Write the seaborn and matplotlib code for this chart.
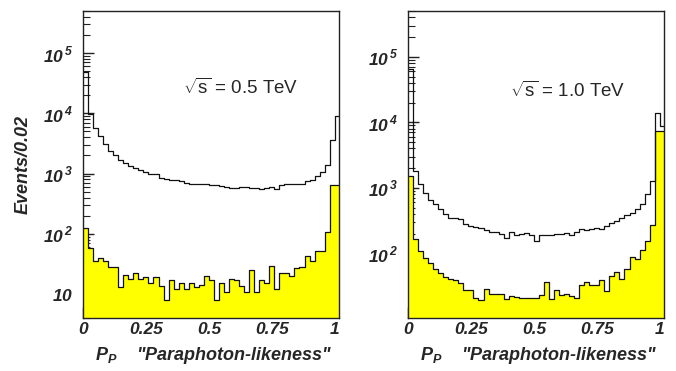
import numpy as np
import matplotlib
matplotlib.use("Agg")
import matplotlib.pyplot as plt
from matplotlib.ticker import FixedLocator, FuncFormatter, LogLocator, NullFormatter, MultipleLocator
import seaborn as sns

# bin edges: 51 bins of width 0.02 (Events/0.02)
bin_edges = [round(0.02 * i, 2) for i in range(52)]

# sqrt(s) = 0.5 TeV : all events (white) and selected (yellow)
left_all = [48000, 9900, 5800, 4250, 3100, 2350, 2000, 1700, 1500, 1320,
            1220, 1150, 1050, 990, 990, 850, 810, 790, 770, 750,
            700, 680, 670, 665, 665, 650, 650, 620, 590, 585,
            585, 590, 590, 575, 585, 560, 575, 590, 560, 640,
            665, 665, 680, 665, 740, 790, 900, 1050, 1400, 3600, 8900]
left_sel = [125, 58, 36, 40, 35, 28, 28, 13, 21, 18,
            22, 18, 19, 15, 19, 13.5, 8, 17, 12, 15,
            12, 15.5, 13, 14, 20, 17, 8, 15, 11, 18,
            17, 13.5, 11, 25, 11, 17, 15, 29, 12, 22,
            22, 20, 27, 28, 43, 36, 51, 51, 107, 650, 650]

# sqrt(s) = 1.0 TeV
right_all = [65000, 1800, 1150, 820, 660, 560, 470, 400, 350, 350,
             330, 280, 265, 250, 243, 225, 215, 210, 195, 172,
             210, 192, 200, 205, 192, 155, 192, 192, 192, 196,
             196, 203, 192, 215, 237, 229, 237, 243, 237, 257,
             290, 314, 345, 389, 412, 475, 574, 800, 1267, 13700, 8900]
right_sel = [1510, 165, 110, 85, 70, 58, 50, 44, 41, 39,
             35, 28, 28, 20.5, 19.4, 29, 24.3, 24.3, 24.3, 20.3,
             22.3, 21.5, 20.8, 20.8, 20.8, 20.8, 22.8, 36, 20.3, 28,
             22.8, 24.3, 22.3, 21, 33, 36, 33, 33, 39, 27,
             45, 52, 41, 57, 89, 82, 112, 155, 273, 7280, 7280]

x_ticks = [0, 0.25, 0.5, 0.75, 1]
x_tick_labels = ["0", "0.25", "0.5", "0.75", "1"]
energy_labels = [r"$\sqrt{\mathrm{s}}$ = 0.5 TeV", r"$\sqrt{\mathrm{s}}$ = 1.0 TeV"]

sns.set_style("ticks")
plt.rcParams["font.family"] = ["Liberation Sans", "DejaVu Sans"]
plt.rcParams["mathtext.fontset"] = "custom"
plt.rcParams["mathtext.rm"] = "Liberation Sans"
plt.rcParams["mathtext.bfit"] = "Liberation Sans:italic:bold"

fig = plt.figure(figsize=(6.76, 3.71), dpi=100)
ax_l = fig.add_axes([83 / 676, 53 / 371, 256 / 676, 307 / 371])
ax_r = fig.add_axes([408 / 676, 53 / 371, 256 / 676, 307 / 371])

centers = [e + 0.01 for e in bin_edges[:-1]]


def log_label(v, pos):
    k = int(round(np.log10(v)))
    if k == 1:
        return r"$\mathbfit{10}$"
    return r"$\mathbfit{10}^{\,\mathbfit{%d}}$" % k


def draw(ax, total, sel, ylim, text, text_xy):
    sns.histplot(x=centers, weights=sel, bins=bin_edges, element="step", fill=True,
                 color="#ffff00", alpha=1, linewidth=0, ax=ax)
    sns.histplot(x=centers, weights=sel, bins=bin_edges, element="step", fill=False,
                 color="#111111", linewidth=0.9, ax=ax)
    sns.histplot(x=centers, weights=total, bins=bin_edges, element="step", fill=False,
                 color="#111111", linewidth=0.9, ax=ax)
    ax.set_yscale("log")
    ax.set_xlim(0, 1.017)
    ax.set_ylim(*ylim)

    ax.xaxis.set_major_locator(FixedLocator(x_ticks))
    ax.xaxis.set_minor_locator(MultipleLocator(0.05))
    ax.set_xticklabels(x_tick_labels, fontsize=12.5, fontweight="bold", fontstyle="italic")
    ax.yaxis.set_major_locator(LogLocator(base=10, numticks=10))
    ax.yaxis.set_minor_locator(LogLocator(base=10, subs=np.arange(2, 10), numticks=20))
    ax.yaxis.set_major_formatter(FuncFormatter(log_label))
    ax.yaxis.set_minor_formatter(NullFormatter())
    ax.tick_params(axis="y", which="major", labelsize=12.5)

    ax.tick_params(which="both", direction="in", top=False, right=False, color="#222222")
    ax.tick_params(axis="x", which="major", length=8, width=1, pad=3)
    ax.tick_params(axis="x", which="minor", length=4.5, width=0.8)
    ax.tick_params(axis="y", which="major", length=8, width=1, pad=7)
    ax.tick_params(axis="y", which="minor", length=5, width=0.8)
    for sp in ax.spines.values():
        sp.set_visible(True)
        sp.set_color("#222222")
        sp.set_linewidth(1)

    ax.set_ylabel("")
    ax.set_xlabel(r'$\mathbfit{P}_{\mathbfit{P}}$    "Paraphoton-likeness"', fontsize=13,
                  fontweight="bold", fontstyle="italic", loc="right", labelpad=6)
    ax.xaxis.label.set_x(0.975)
    ax.text(text_xy[0], text_xy[1], text, transform=ax.transAxes, fontsize=13.5,
            ha="left", va="center")


draw(ax_l, left_all, left_sel, (4.0, 5e5), energy_labels[0], (0.39, 0.749))
draw(ax_r, right_all, right_sel, (10.3, 5e5), energy_labels[1], (0.398, 0.739))

ax_l.set_ylabel("Events/0.02", fontsize=13, fontweight="bold", fontstyle="italic", labelpad=8)

fig.savefig("out.png", dpi=100)
